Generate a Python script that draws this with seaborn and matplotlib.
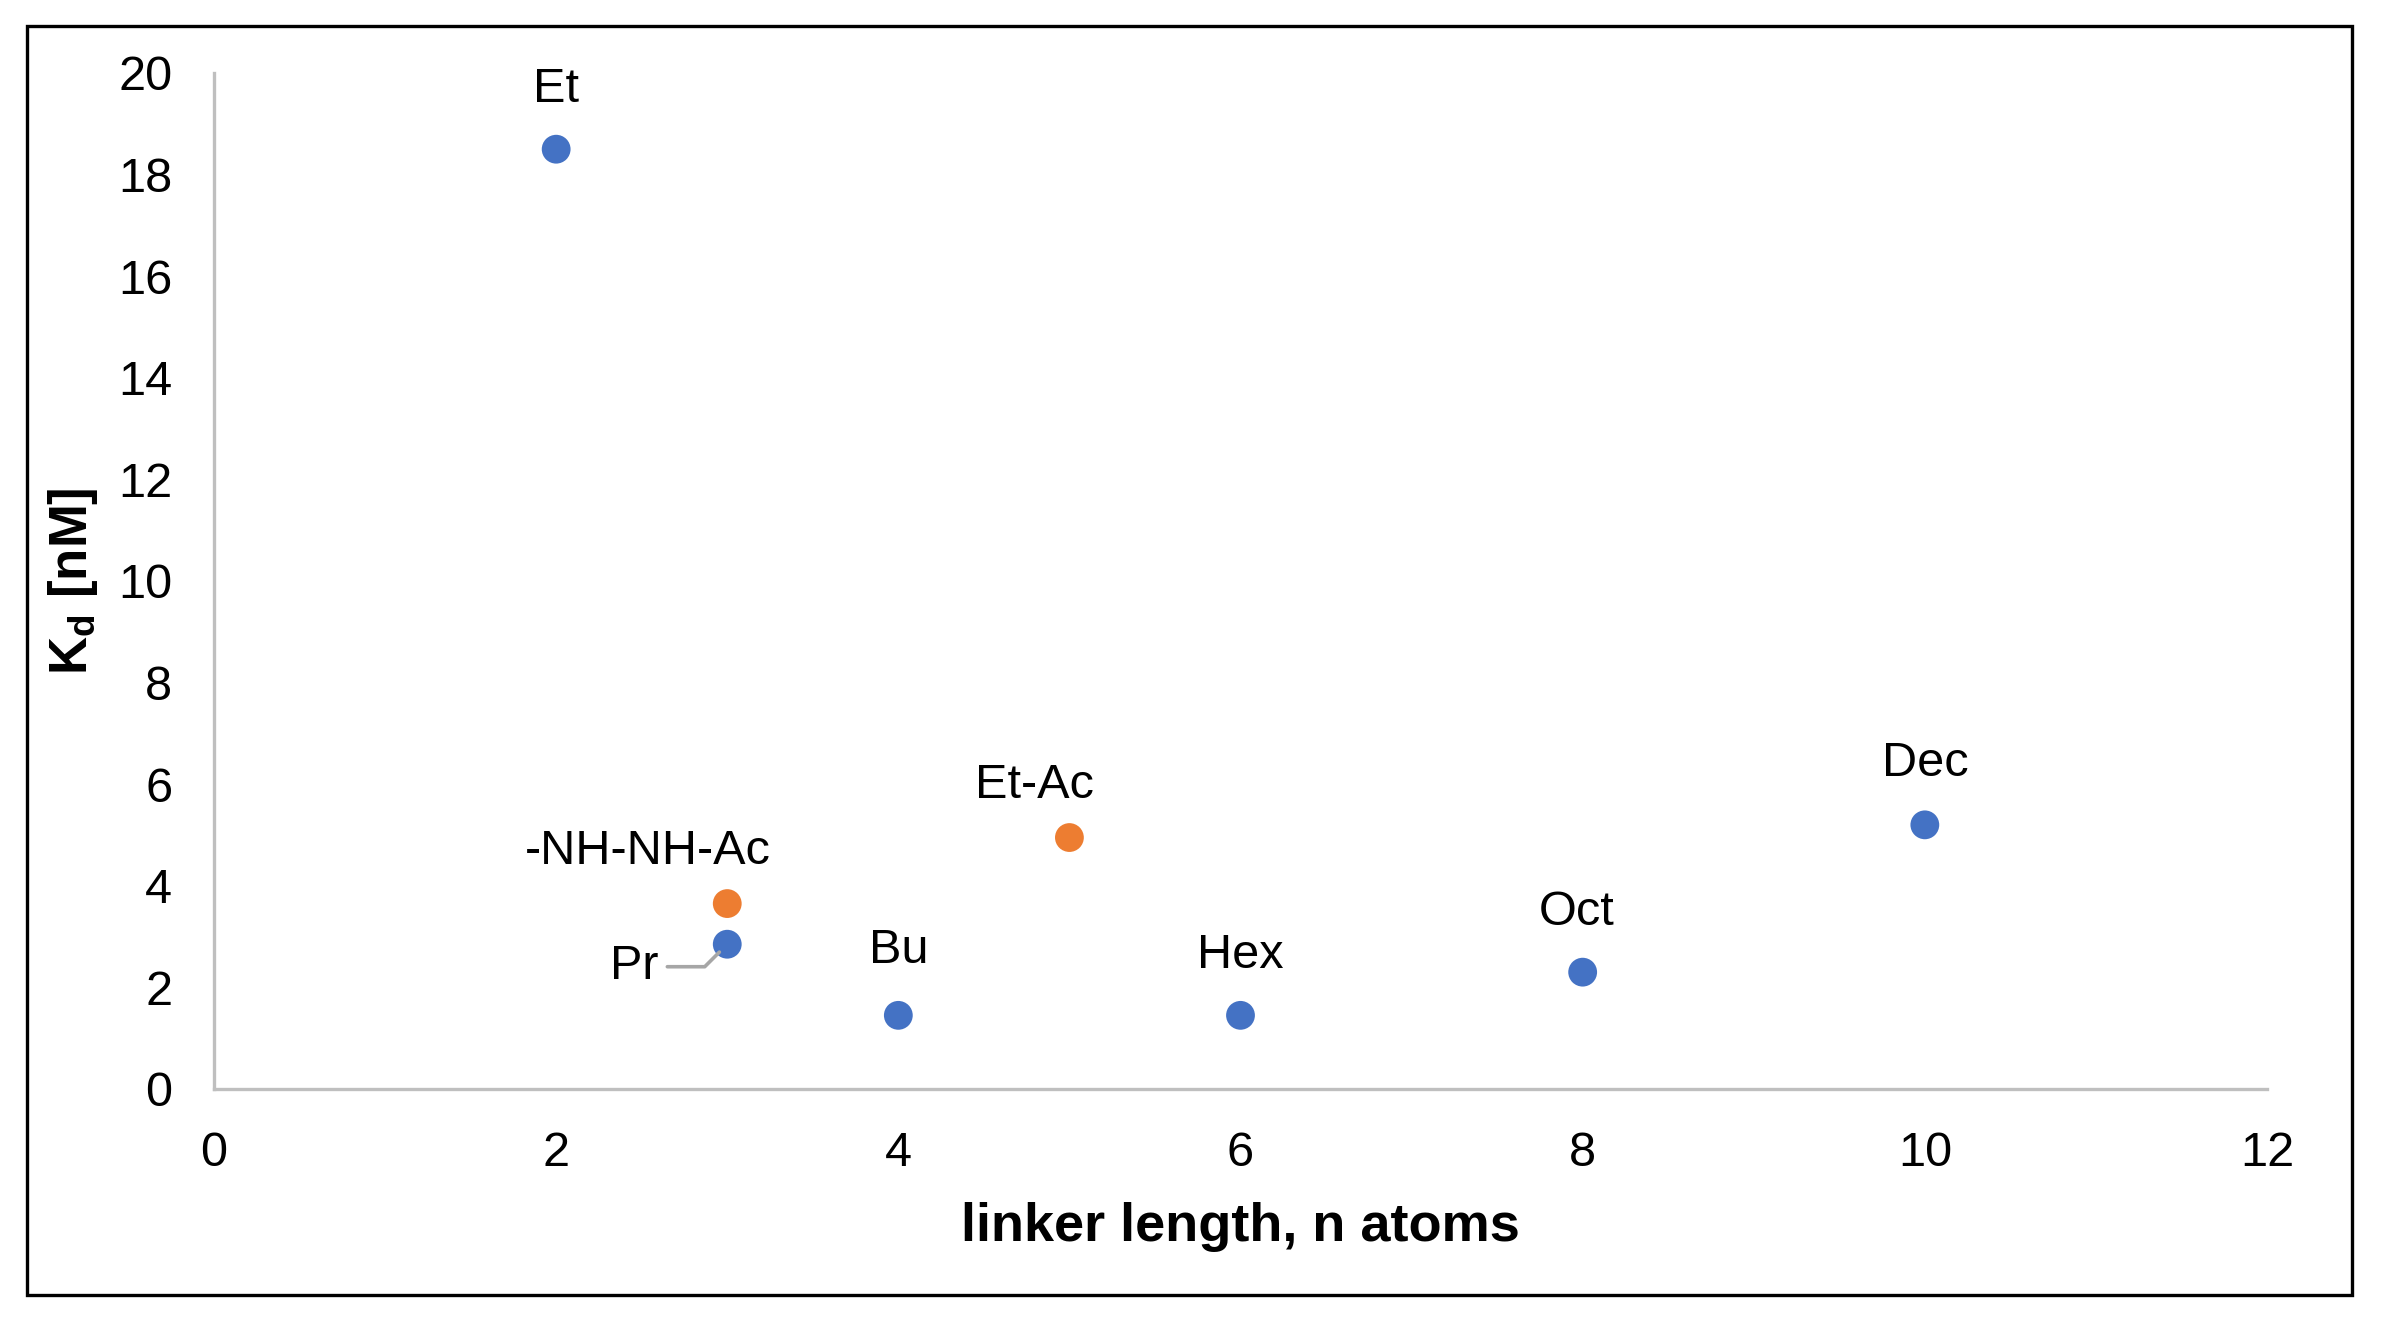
import matplotlib
matplotlib.use("Agg")
import matplotlib.pyplot as plt
import seaborn as sns
import pandas as pd
from matplotlib.patches import Rectangle

# ---- data ----
names = ["Et", "Pr", "Bu", "Hex", "Oct", "Dec", "-NH-NH-Ac", "Et-Ac"]
linker_n = [2, 3, 4, 6, 8, 10, 3, 5]
kd_nM = [18.5, 2.85, 1.45, 1.45, 2.3, 5.2, 3.65, 4.95]
series = ["alkyl", "alkyl", "alkyl", "alkyl", "alkyl", "alkyl", "acyl", "acyl"]
x_ticks = [0, 2, 4, 6, 8, 10, 12]
y_ticks = [0, 2, 4, 6, 8, 10, 12, 14, 16, 18, 20]

# label offsets in pixels (dx, dy baseline relative to point)
label_offsets = {
    "Et": (0, 47), "Pr": (-93, -35), "Bu": (0, 52), "Hex": (0, 47),
    "Oct": (-6, 47), "Dec": (0, 49), "-NH-NH-Ac": (-79, 40), "Et-Ac": (-35, 40),
}

df = pd.DataFrame({"name": names, "n": linker_n, "kd": kd_nM, "series": series})

sns.set_theme(style="white")
plt.rcParams["font.family"] = ["Liberation Sans", "DejaVu Sans"]
plt.rcParams["mathtext.fontset"] = "custom"
plt.rcParams["mathtext.rm"] = "Liberation Sans"
plt.rcParams["mathtext.bf"] = "Liberation Sans:bold"
plt.rcParams["text.color"] = "black"
plt.rcParams["axes.labelcolor"] = "black"

W, H = 2384, 1324
fig = plt.figure(figsize=(W / 100, H / 100), dpi=100)
fig.patch.set_facecolor("white")

left, right, top, bottom = 214, 2267, 73, 1089
ax = fig.add_axes([left / W, 1 - bottom / H, (right - left) / W, (bottom - top) / H])

sns.scatterplot(data=df, x="n", y="kd", hue="series",
                palette={"alkyl": "#4472C4", "acyl": "#ED7D31"},
                s=430, linewidth=0, legend=False, ax=ax, zorder=3)

ax.set_xlim(0, 12)
ax.set_ylim(0, 20)
ax.set_xticks(x_ticks)
ax.set_yticks(y_ticks)
ax.tick_params(axis="both", length=0, pad=30, labelsize=35, labelcolor="black")

for s in ["top", "right"]:
    ax.spines[s].set_visible(False)
for s in ["left", "bottom"]:
    ax.spines[s].set_color("#BFBFBF")
    ax.spines[s].set_linewidth(2.4)
ax.grid(False)

ax.set_xlabel("linker length, n atoms", fontsize=39, fontweight="bold", va="center", color="black")
ax.xaxis.set_label_coords(0.5, (bottom - 1227) / (bottom - top))
ax.set_ylabel(r"$\mathbf{K}_{\mathbf{d}}$ [nM]", fontsize=38, fontweight="bold", va="center", color="black")
ax.yaxis.set_label_coords((73 - left) / (right - left), 0.5)

for nm, xv, yv in zip(names, linker_n, kd_nM):
    dx, dy = label_offsets[nm]
    if nm == "Pr":
        ax.annotate(nm, xy=(xv, yv), xytext=(dx, dy), textcoords="offset pixels",
                    ha="center", va="baseline", fontsize=35, color="black",
                    arrowprops=dict(arrowstyle="-", color="#A6A6A6", lw=2.6,
                                    shrinkA=4, shrinkB=8,
                                    connectionstyle="angle,angleA=0,angleB=45,rad=0"))
    else:
        ax.annotate(nm, xy=(xv, yv), xytext=(dx, dy), textcoords="offset pixels",
                    ha="center", va="baseline", fontsize=35, color="black")

fig.patches.append(Rectangle((27 / W, 1 - 1295 / H), (2352 - 27) / W, (1295 - 26) / H,
                             transform=fig.transFigure, fill=False,
                             edgecolor="black", linewidth=2.4))

fig.savefig("out.png", dpi=100, facecolor="white")
